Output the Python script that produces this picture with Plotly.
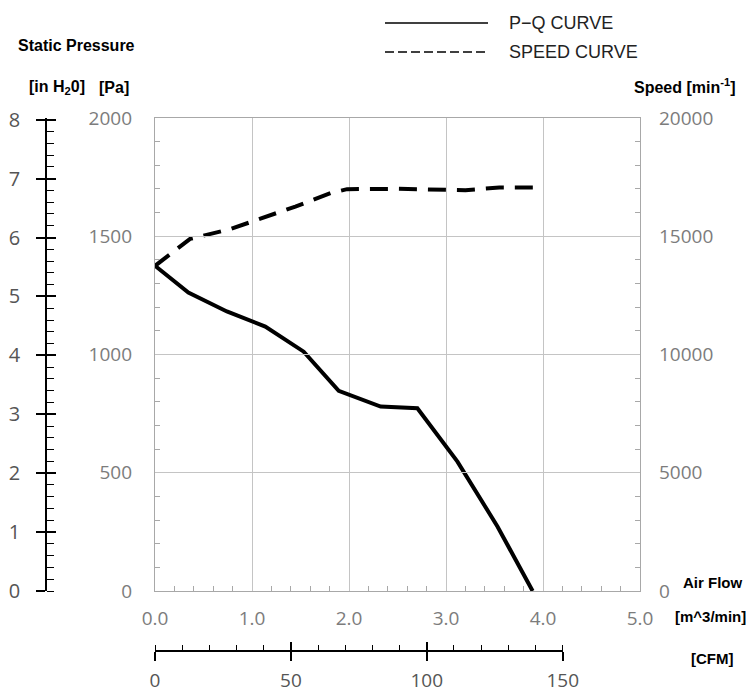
import plotly.graph_objects as go

# ---- data ----
pq_flow = [0.0, 0.344, 0.741, 1.137, 1.533, 1.894, 2.326, 2.705, 3.118, 3.532, 3.893]
pq_pressure = [1375, 1262, 1182, 1118, 1012, 846, 780, 773, 547, 272, 0]

speed_flow = [0.0, 0.362, 0.775, 1.10, 1.447, 1.81, 1.98, 2.50, 2.86, 3.20, 3.55, 3.91]
speed_rpm = [13750, 14890, 15300, 15765, 16256, 16823, 16992, 17005, 16963, 16950, 17060, 17060]

PA_PER_INH2O = 249.089

W, H = 754, 694
OFF = 8  # page body margin
def px_x(p): return (p - OFF) / W
def px_y(p): return (H - (p - OFF)) / H

x_dom = [px_x(155), px_x(640)]
y_dom = [px_y(591), px_y(118)]

tick_font = dict(family="Open Sans", size=19, color="#7c7c7c")
big_font = dict(family="Open Sans", size=20, color="#555555")
cfm_font = dict(family="Open Sans", size=19, color="#555555")
bold_font = dict(family="Liberation Sans", size=16, color="black")
bold_small = dict(family="Liberation Sans", size=15, color="black")
leg_font = dict(family="Liberation Sans", size=18, color="#222222")

fig = go.Figure()
fig.add_trace(go.Scatter(x=pq_flow, y=pq_pressure, mode="lines", name="P-Q CURVE",
                         line=dict(color="black", width=4), xaxis="x", yaxis="y",
                         showlegend=False))
fig.add_trace(go.Scatter(x=speed_flow, y=speed_rpm, mode="lines", name="SPEED CURVE",
                         line=dict(color="black", width=4, dash="18px,11px"),
                         xaxis="x", yaxis="y2", showlegend=False))
# empty traces to activate auxiliary axes
for xa, ya in [("x", "y3"), ("x", "y4"), ("x3", "y"), ("x4", "y")]:
    fig.add_trace(go.Scatter(x=[], y=[], xaxis=xa, yaxis=ya, showlegend=False,
                             hoverinfo="skip"))

fig.update_layout(
    width=W, height=H, autosize=False,
    margin=dict(l=0, r=0, t=0, b=0, autoexpand=False),
    paper_bgcolor="white", plot_bgcolor="rgba(0,0,0,0)",
    xaxis=dict(domain=x_dom, range=[0, 5], dtick=1, tickformat=".1f", automargin=False,
               showgrid=True, gridcolor="#c4c4c4", gridwidth=1.3,
               showline=True, linecolor="#a8a8a8", linewidth=1.3, mirror=True,
               zeroline=False, ticks="", tickfont=tick_font, ticklabelstandoff=10,
               minor=dict(dtick=0.2, ticks="inside", ticklen=5, tickcolor="#a8a8a8",
                          showgrid=False)),
    yaxis=dict(domain=y_dom, range=[0, 2000], dtick=500, tickformat="d", automargin=False,
               showgrid=True, gridcolor="#c4c4c4", gridwidth=1.3,
               showline=True, linecolor="#a8a8a8", linewidth=1.3, mirror=True,
               zeroline=False, ticks="", tickfont=tick_font, ticklabelstandoff=18,
               minor=dict(dtick=100, ticks="inside", ticklen=5, tickcolor="#a8a8a8",
                          showgrid=False)),
    yaxis2=dict(overlaying="y", side="right", anchor="x", range=[0, 20000], dtick=5000,
                tickformat="d", automargin=False,
                showgrid=False, zeroline=False, showline=False, ticks="",
                tickfont=tick_font, ticklabelstandoff=18,
                minor=dict(dtick=1000, ticks="inside", ticklen=5, tickcolor="#a8a8a8")),
    yaxis3=dict(overlaying="y", anchor="free", position=px_x(46), side="left",
                range=[0, 2000 / PA_PER_INH2O], dtick=1, automargin=False,
                showgrid=False, zeroline=False, showline=True, linecolor="black",
                linewidth=1.5, ticks="outside", ticklen=9, tickwidth=1.5,
                tickcolor="black", tickfont=big_font, ticklabelstandoff=12,
                minor=dict(dtick=0.2, ticks="inside", ticklen=7, tickcolor="black",
                           tickwidth=1.3)),
    yaxis4=dict(overlaying="y", anchor="free", position=px_x(46), side="left",
                range=[0, 2000 / PA_PER_INH2O], dtick=1, automargin=False,
                showgrid=False, zeroline=False, showline=False, ticks="inside",
                ticklen=9, tickwidth=1.5, tickcolor="black", showticklabels=False),
    xaxis3=dict(domain=[px_x(155), px_x(562.7)], anchor="free", position=px_y(651),
                side="bottom", range=[0, 150], dtick=50, automargin=False,
                showgrid=False, zeroline=False, showline=True, linecolor="black",
                linewidth=1.5, ticks="outside", ticklen=9, tickwidth=1.5,
                tickcolor="black", tickfont=cfm_font, ticklabelstandoff=3,
                minor=dict(dtick=10, ticks="inside", ticklen=5, tickcolor="black",
                           tickwidth=1.3)),
    xaxis4=dict(domain=[px_x(155), px_x(562.7)], anchor="free", position=px_y(651),
                side="bottom", range=[0, 150], dtick=50, automargin=False,
                showgrid=False, zeroline=False, showline=False, ticks="inside",
                ticklen=9, tickwidth=1.5, tickcolor="black", showticklabels=False),
)

annos = [
    ("Static Pressure", 16, 46, "left", bold_font),
    ("[in H<sub>2</sub>0]", 27, 87, "left", bold_font),
    ("[Pa]", 97, 87, "left", bold_font),
    ("Speed [min<sup>-1</sup>]", 738, 86, "right", bold_font),
    ("Air Flow", 712, 582, "center", bold_small),
    ("[m^3/min]", 710, 616, "center", bold_small),
    ("[CFM]", 712, 658, "center", bold_small),
]
for text, x, y, anc, fnt in annos:
    fig.add_annotation(text="<b>" + text + "</b>", xref="paper", yref="paper",
                       x=px_x(x), y=px_y(y), xanchor=anc, yanchor="middle",
                       showarrow=False, font=fnt)

# legend
fig.add_shape(type="line", xref="paper", yref="paper", x0=px_x(385), x1=px_x(488),
              y0=px_y(23), y1=px_y(23), line=dict(color="black", width=1.5))
fig.add_shape(type="line", xref="paper", yref="paper", x0=px_x(385), x1=px_x(488),
              y0=px_y(52), y1=px_y(52), line=dict(color="black", width=1.5, dash="9px,4px"))
fig.add_annotation(text="P\u2212Q CURVE", xref="paper", yref="paper", x=px_x(507),
                   y=px_y(23), xanchor="left", yanchor="middle", showarrow=False,
                   font=leg_font)
fig.add_annotation(text="SPEED CURVE", xref="paper", yref="paper", x=px_x(507),
                   y=px_y(52), xanchor="left", yanchor="middle", showarrow=False,
                   font=leg_font)
# grey strip at the very top
fig.add_shape(type="rect", xref="paper", yref="paper", x0=0, x1=1, y0=px_y(3), y1=1.02,
              fillcolor="#d6d6d6", line=dict(width=0), layer="below")

fig.write_html("out.html")
